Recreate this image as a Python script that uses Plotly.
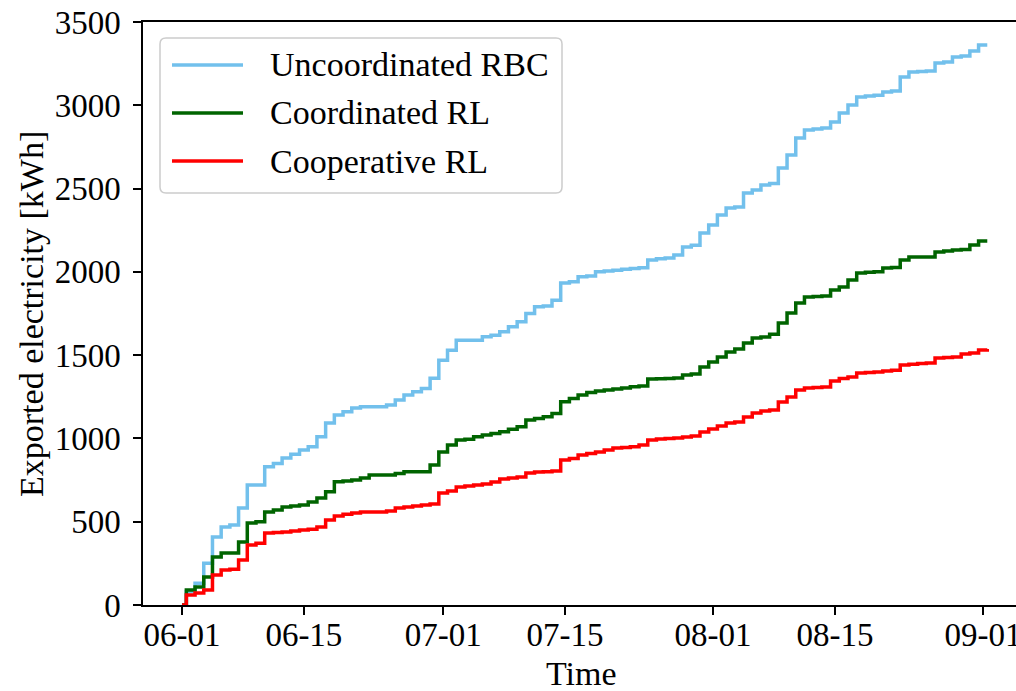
import pandas as pd
import plotly.graph_objects as go

start_date = "2021-06-01"
n_days = 93
# each day's step is placed at mid-day (jumps happen around noon)
dates = pd.date_range("2021-06-01 12:00", periods=n_days, freq="D")

uncoordinated_rbc = [
    80, 130, 250, 408, 468, 480, 582, 720, 720, 830,
    850, 882, 905, 930, 950, 1010, 1093, 1140, 1160, 1183,
    1190, 1190, 1190, 1200, 1230, 1260, 1280, 1300, 1362, 1470,
    1530, 1590, 1590, 1590, 1610, 1620, 1640, 1670, 1700, 1750,
    1790, 1795, 1830, 1933, 1940, 1970, 1975, 2000, 2005, 2010,
    2015, 2020, 2025, 2071, 2078, 2083, 2101, 2149, 2160, 2233,
    2281, 2341, 2383, 2390, 2473, 2491, 2521, 2530, 2623, 2701,
    2803, 2851, 2857, 2864, 2900, 2954, 3002, 3050, 3055, 3060,
    3080, 3086, 3170, 3200, 3203, 3206, 3254, 3260, 3290, 3296,
    3326, 3362, 3362,
]

coordinated_rl = [
    90, 108, 168, 288, 312, 312, 378, 492, 500, 558,
    570, 588, 595, 600, 618, 642, 680, 740, 745, 750,
    762, 780, 780, 780, 790, 800, 800, 800, 840, 918,
    960, 990, 995, 1010, 1020, 1030, 1040, 1055, 1070, 1110,
    1120, 1130, 1150, 1220, 1240, 1260, 1275, 1285, 1290, 1297,
    1303, 1310, 1315, 1357, 1358, 1360, 1363, 1381, 1387, 1429,
    1459, 1489, 1519, 1537, 1573, 1603, 1609, 1625, 1693, 1753,
    1813, 1849, 1852, 1855, 1891, 1909, 1951, 1993, 1998, 2000,
    2023, 2026, 2071, 2089, 2089, 2089, 2119, 2125, 2131, 2134,
    2161, 2185, 2185,
]

cooperative_rl = [
    60, 72, 90, 180, 210, 215, 270, 360, 370, 432,
    435, 438, 444, 450, 455, 468, 510, 534, 545, 552,
    558, 558, 558, 565, 582, 588, 594, 600, 606, 672,
    684, 708, 715, 720, 726, 738, 756, 762, 768, 792,
    798, 800, 804, 870, 880, 900, 910, 918, 930, 942,
    946, 950, 960, 990, 996, 999, 1002, 1008, 1014, 1039,
    1057, 1075, 1093, 1099, 1129, 1153, 1165, 1171, 1219, 1249,
    1291, 1303, 1306, 1309, 1345, 1360, 1369, 1393, 1396, 1399,
    1405, 1410, 1441, 1445, 1450, 1453, 1483, 1486, 1489, 1507,
    1513, 1531, 1537,
]

series_names = ["Uncoordinated RBC", "Coordinated RL", "Cooperative RL"]
series_values = [uncoordinated_rbc, coordinated_rl, cooperative_rl]
series_colors = ["#72C0EC", "#006400", "#FF0000"]

tick_dates = ["2021-06-01", "2021-06-15", "2021-07-01", "2021-07-15",
              "2021-08-01", "2021-08-15", "2021-09-01"]
tick_labels = ["06-01", "06-15", "07-01", "07-15", "08-01", "08-15", "09-01"]
y_ticks = [0, 500, 1000, 1500, 2000, 2500, 3000, 3500]

FONT = "Liberation Serif, Times New Roman, serif"
W, H = 1016, 691
# plot area in page pixels: x 143..1016, y 22..605
ML, MR, MT, MB = 143, 0, 22, H - 605
PW, PH = W - ML - MR, H - MT - MB


def px_x(x):  # page pixel -> paper
    return (x - ML) / PW


def px_y(y):
    return (H - MB - y) / PH


fig = go.Figure()
for name, vals, col in zip(series_names, series_values, series_colors):
    xs = [pd.Timestamp(start_date)] + list(dates)
    ys = [0] + list(vals)
    fig.add_trace(go.Scatter(x=xs, y=ys, mode="lines", name=name, showlegend=False,
                             line=dict(color=col, width=3.5, shape="hv")))

# --- legend drawn by hand (matplotlib-like box) ---
bx0, bx1, by0, by1, r = 160, 562, 38, 193, 6
rx, ry = r / PW, r / PH
X0, X1, Y0, Y1 = px_x(bx0), px_x(bx1), px_y(by1), px_y(by0)
path = (f"M{X0+rx},{Y0} L{X1-rx},{Y0} Q{X1},{Y0} {X1},{Y0+ry} "
        f"L{X1},{Y1-ry} Q{X1},{Y1} {X1-rx},{Y1} L{X0+rx},{Y1} "
        f"Q{X0},{Y1} {X0},{Y1-ry} L{X0},{Y0+ry} Q{X0},{Y0} {X0+rx},{Y0} Z")
shapes = [dict(type="path", path=path, xref="paper", yref="paper",
               fillcolor="rgba(255,255,255,0.8)", line=dict(color="#cccccc", width=1.5),
               layer="above")]
annotations = []
row_y = [65, 113, 161]
for name, col, yy in zip(series_names, series_colors, row_y):
    shapes.append(dict(type="line", xref="paper", yref="paper",
                       x0=px_x(172), x1=px_x(243), y0=px_y(yy), y1=px_y(yy),
                       line=dict(color=col, width=3.5), layer="above"))
    annotations.append(dict(text=name, xref="paper", yref="paper",
                            x=px_x(268), y=px_y(yy), xanchor="left", yanchor="middle",
                            showarrow=False, font=dict(family=FONT, size=34, color="black")))

# axis titles
annotations.append(dict(text="Time", xref="paper", yref="paper",
                        x=px_x(581), y=px_y(673), xanchor="center", yanchor="middle",
                        showarrow=False, font=dict(family=FONT, size=34, color="black")))
annotations.append(dict(text="Exported electricity [kWh]", xref="paper", yref="paper",
                        x=px_x(31), y=px_y(314), xanchor="center", yanchor="middle",
                        textangle=-90, showarrow=False,
                        font=dict(family=FONT, size=34, color="black")))

fig.update_layout(
    width=W, height=H,
    margin=dict(l=ML, r=MR, t=MT, b=MB, autoexpand=False),
    paper_bgcolor="white", plot_bgcolor="white",
    font=dict(family=FONT, size=33, color="black"),
    showlegend=False,
    shapes=shapes, annotations=annotations,
    xaxis=dict(
        range=["2021-05-27 12:30", "2021-09-04 19:10"],
        tickvals=tick_dates, ticktext=tick_labels,
        ticks="outside", ticklen=8, tickwidth=1.5, tickcolor="black",
        showline=True, linecolor="black", linewidth=1.5, mirror=True,
        showgrid=False, zeroline=False, automargin=False,
        ticklabelstandoff=-8, ticklabeloverflow="allow",
        tickfont=dict(family=FONT, size=33),
    ),
    yaxis=dict(
        range=[0, 3500],
        tickvals=y_ticks,
        ticks="outside", ticklen=8, tickwidth=1.5, tickcolor="black",
        showline=True, linecolor="black", linewidth=1.5, mirror=False,
        showgrid=False, zeroline=False, automargin=False,
        ticklabelstandoff=6, ticklabeloverflow="allow",
        tickfont=dict(family=FONT, size=33),
    ),
)

# place the figure at the page origin (remove the default 8px body margin)
fig.write_html(
    "out.html",
    config={"displayModeBar": False},
    post_script="document.body.style.margin='0';document.body.style.overflow='hidden';",
)
